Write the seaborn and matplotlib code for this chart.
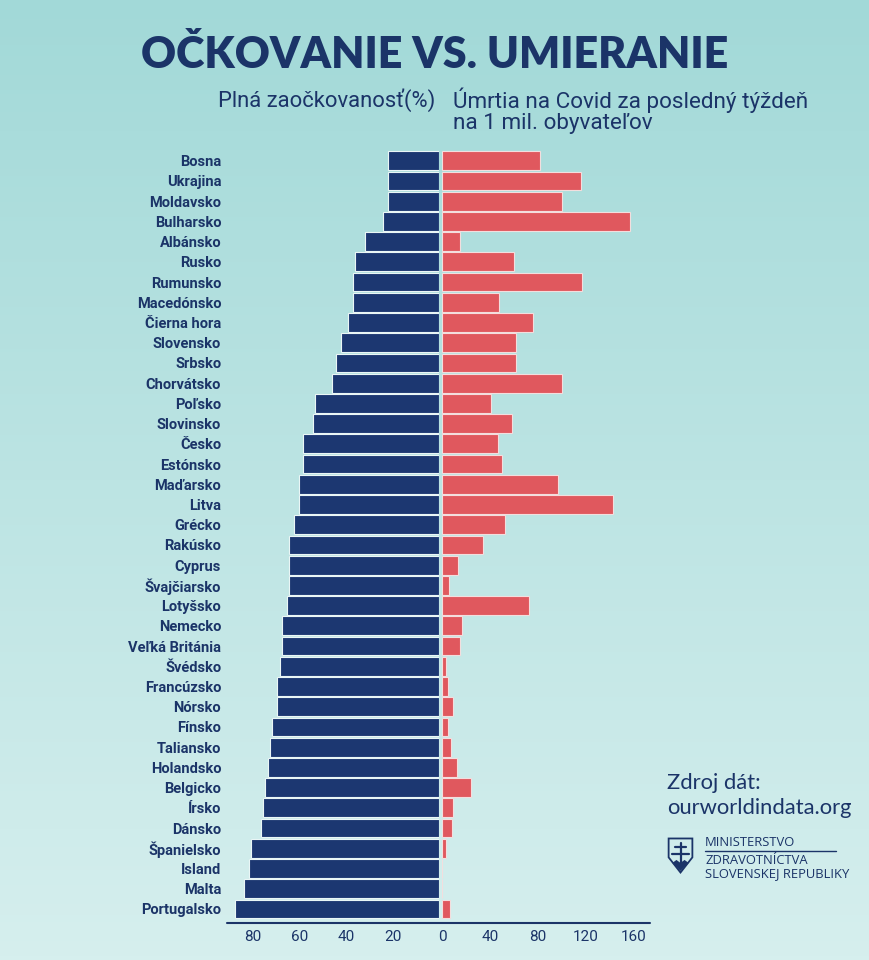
import numpy as np
import pandas as pd
import matplotlib.pyplot as plt
import seaborn as sns
from matplotlib.colors import LinearSegmentedColormap
from matplotlib.lines import Line2D
from matplotlib.patches import Polygon


countries = ["Bosna", "Ukrajina", "Moldavsko", "Bulharsko", "Albánsko", "Rusko",
             "Rumunsko", "Macedónsko", "Čierna hora", "Slovensko", "Srbsko",
             "Chorvátsko", "Poľsko", "Slovinsko", "Česko", "Estónsko", "Maďarsko",
             "Litva", "Grécko", "Rakúsko", "Cyprus", "Švajčiarsko", "Lotyšsko",
             "Nemecko", "Veľká Británia", "Švédsko", "Francúzsko", "Nórsko",
             "Fínsko", "Taliansko", "Holandsko", "Belgicko", "Írsko", "Dánsko",
             "Španielsko", "Island", "Malta", "Portugalsko"]

# plna zaockovanost (%)
vaccinated = [22.1, 22.1, 22.1, 24.0, 32.0, 36.1, 37.2, 37.2, 39.2, 42.2, 44.2,
              46.2, 53.4, 54.3, 58.4, 58.4, 60.3, 60.3, 62.4, 64.5, 64.5, 64.5,
              65.4, 67.6, 67.6, 68.3, 69.5, 69.5, 71.6, 72.5, 73.5, 74.6, 75.7,
              76.6, 80.7, 81.6, 83.7, 87.7]

# umrtia za posledny tyzden na 1 mil. obyvatelov
deaths = [82.2, 116.2, 100.0, 156.9, 15.2, 60.2, 117.1, 47.6, 75.8, 61.4, 61.4,
          100.0, 40.4, 58.2, 46.7, 49.6, 96.9, 143.1, 52.2, 34.0, 13.0, 5.5,
          72.9, 16.1, 15.2, 3.1, 4.6, 8.9, 4.6, 6.9, 12.1, 23.9, 8.9, 8.0, 2.8,
          0.0, 0.0, 6.4]

left_ticks = [80, 60, 40, 20]
right_ticks = [0, 40, 80, 120, 160]

navy = '#1b3468'
blue = '#1c3771'
red = '#e0585e'

df = pd.DataFrame({'krajina': countries, 'ockovanost': vaccinated, 'umrtia': deaths})

sns.set_theme(style='white')
plt.rcParams['font.family'] = ['Roboto', 'DejaVu Sans']

W, H = 869, 960
fig = plt.figure(figsize=(W / 100, H / 100), dpi=100)


def box(x0, y0, x1, y1):
    # pixel box (top-left origin) -> figure fraction rect
    return [x0 / W, 1 - y1 / H, (x1 - x0) / W, (y1 - y0) / H]


# background gradient
bg = fig.add_axes([0, 0, 1, 1], zorder=-10)
cmap = LinearSegmentedColormap.from_list('bg', ['#a2d9d8', '#d6efee'])
bg.imshow(np.linspace(0, 1, 256).reshape(-1, 1), aspect='auto', cmap=cmap,
          extent=[0, 1, 0, 1])
bg.axis('off')

axl = fig.add_axes(box(226.7, 148.6, 439.3, 922.7))
axr = fig.add_axes(box(442.3, 148.6, 650.0, 922.7))

sns.barplot(data=df, x='ockovanost', y='krajina', ax=axl, color=blue,
            saturation=1, width=0.93, edgecolor='#eaf6f6', linewidth=0.8)
sns.barplot(data=df, x='umrtia', y='krajina', ax=axr, color=red,
            saturation=1, width=0.93, edgecolor='#f3dede', linewidth=0.8)

axl.set_xlim(91.2, 0)
axr.set_xlim(0, 174)
for ax in (axl, axr):
    ax.set_ylim(len(countries) - 1 + 0.68, -0.6)
    ax.set_xlabel('')
    ax.set_ylabel('')
    ax.patch.set_alpha(0)
    for s in ax.spines.values():
        s.set_visible(False)
    ax.tick_params(axis='x', length=0, pad=5, labelsize=11, colors=navy)

axl.set_xticks(left_ticks)
axr.set_xticks(right_ticks)
axr.tick_params(axis='y', left=False, labelleft=False)
axl.tick_params(axis='y', length=0, pad=4, labelsize=10.5, colors=navy)
for lbl in axl.get_yticklabels():
    lbl.set_fontweight('bold')

# spodna os cez oba panely
fig.add_artist(Line2D([226.7 / W, 650 / W], [1 - 922.7 / H] * 2, color=navy, lw=1.5))

fig.text(435 / W, 1 - 55 / H, 'OČKOVANIE VS. UMIERANIE', ha='center', va='center',
         fontsize=31, fontweight='heavy', color=navy, family=['Lato', 'DejaVu Sans'])
fig.text(435 / W, 1 - 100 / H, 'Plná zaočkovanosť(%)', ha='right', va='center',
         fontsize=15.8, color=navy)
fig.text(453 / W, 1 - 100 / H, 'Úmrtia na Covid za posledný týždeň', ha='left',
         va='center', fontsize=16.2, color=navy)
fig.text(453 / W, 1 - 124 / H, 'na 1 mil. obyvateľov', ha='left', va='center',
         fontsize=16.2, color=navy)

fig.text(667 / W, 1 - 783 / H, 'Zdroj dát:', ha='left', va='center', fontsize=15.8,
         color=navy, family=['Lato', 'DejaVu Sans'])
fig.text(667 / W, 1 - 808 / H, 'ourworldindata.org', ha='left', va='center',
         fontsize=15.8, color=navy, family=['Lato', 'DejaVu Sans'])

# logo ministerstva
lg = fig.add_axes(box(667, 837, 694, 874))
lg.set_xlim(0, 1)
lg.set_ylim(0, 1)
lg.axis('off')
lg.add_patch(Polygon([(0.06, 0.96), (0.94, 0.96), (0.94, 0.45), (0.5, 0.04),
                      (0.06, 0.45)], closed=True, fc='none', ec=navy, lw=1.3))
lg.plot([0.5, 0.5], [0.25, 0.85], color=navy, lw=1.6)
lg.plot([0.28, 0.72], [0.72, 0.72], color=navy, lw=1.6)
lg.plot([0.2, 0.8], [0.55, 0.55], color=navy, lw=1.6)
lg.add_patch(Polygon([(0.2, 0.3), (0.35, 0.38), (0.5, 0.3), (0.65, 0.38), (0.8, 0.3),
                      (0.5, 0.08)], closed=True, fc=navy, ec='none'))

fig.text(705 / W, 1 - 842 / H, 'MINISTERSTVO', ha='left', va='center', fontsize=9.4,
         color=navy, family=['Open Sans', 'DejaVu Sans'])
fig.add_artist(Line2D([705 / W, 836 / W], [1 - 851 / H] * 2, color=navy, lw=1))
fig.text(705 / W, 1 - 860 / H, 'ZDRAVOTNÍCTVA', ha='left', va='center', fontsize=9.4,
         color=navy, family=['Open Sans', 'DejaVu Sans'])
fig.text(705 / W, 1 - 874 / H, 'SLOVENSKEJ REPUBLIKY', ha='left', va='center',
         fontsize=9.4, color=navy, family=['Open Sans', 'DejaVu Sans'])

fig.savefig('out.png', dpi=100)
